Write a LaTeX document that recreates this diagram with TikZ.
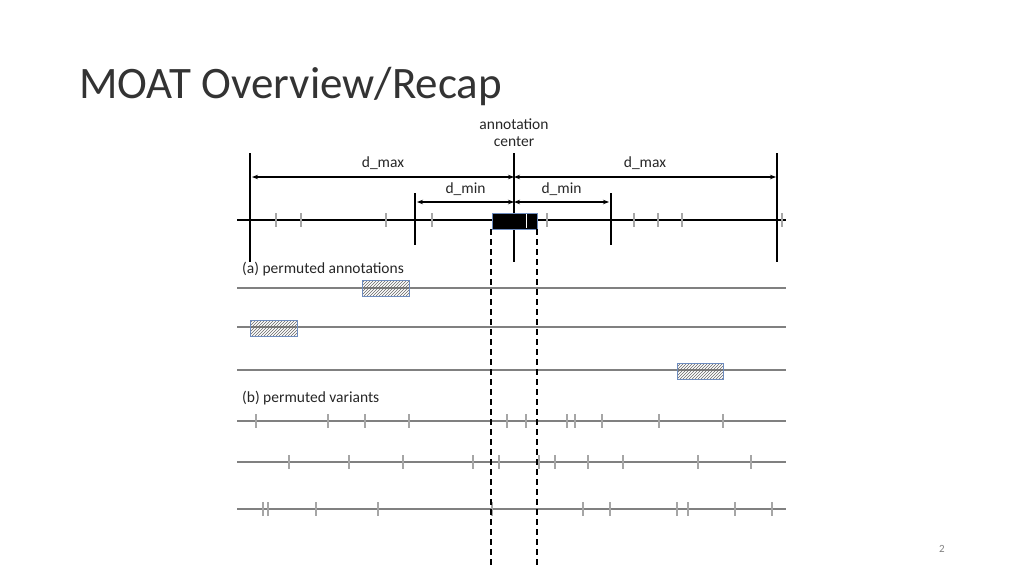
\documentclass[tikz,border=0pt]{standalone}
\usepackage{fontspec}
\setmainfont{Carlito}
\usepackage{tikz}
\usetikzlibrary{patterns,arrows.meta}
\definecolor{boxedge}{RGB}{110,140,190}
\tikzset{
  bigbar/.style={line width=2pt},
  gtick/.style={draw=gray!70,line width=1.4pt},
  gline/.style={draw=gray,line width=1.3pt},
  dimarrow/.style={{Stealth[length=6pt]}-{Stealth[length=6pt]},line width=1.2pt},
  lbl/.style={font=\fontsize{15.5}{17}\selectfont,inner sep=0pt,text=black!85},
  hatchbox/.style={draw=boxedge,pattern=north east lines,pattern color=gray!80!black}
}
\newcommand{\tickrow}[2]{
\foreach \x in {#2} \draw[gtick] (\x,#1-7)--(\x,#1+7);
}
\begin{document}
\begin{tikzpicture}[x=1pt,y=-1pt]
\useasboundingbox (0,0) rectangle (1024,576);
\node[anchor=west,inner sep=0pt,font=\fontsize{45}{50}\selectfont,text=black!80] (title) at (79,86) {MOAT Overview/Recap};
\node[lbl,align=center] (center) at (514,133) {annotation\\center};
\node[lbl,font=\fontsize{11}{12}\selectfont,text=gray] (page) at (942,549) {2};

% main track
\draw[line width=1.3pt] (237,220)--(786,220);
\tickrow{220}{276,301,386,432,547,634,658,682,782}
\foreach \x in {250,514,777} \draw[bigbar] (\x,153)--(\x,262);
\foreach \x in {415,611} \draw[bigbar] (\x,193)--(\x,245);
\draw[fill=black,draw=boxedge] (492,213) rectangle (537,229);
\draw[white,line width=1pt] (526,214)--(526,228);

% distances
\coordinate (lmax) at (252,177); \coordinate (cmax) at (514,177); \coordinate (rmax) at (776,177);
\coordinate (lmin) at (417,202); \coordinate (cmin) at (514,202); \coordinate (rmin) at (609,202);
\draw[dimarrow] (lmax)--(cmax) node[lbl,midway,above=7pt] (dmaxl) {d\_max};
\draw[dimarrow] (cmax)--(rmax) node[lbl,midway,above=7pt] (dmaxr) {d\_max};
\draw[dimarrow] (lmin)--(cmin) node[lbl,midway,above=6pt] (dminl) {d\_min};
\draw[dimarrow] (cmin)--(rmin) node[lbl,midway,above=6pt] (dminr) {d\_min};

% (a) permuted annotations
\node[lbl,anchor=west] (perma) at (242,269) {(a) permuted annotations};
\foreach \y in {288,327,370} \draw[gline] (237,\y)--(786,\y);
\draw[hatchbox] (362,280) rectangle (409,296);
\draw[hatchbox] (250,320) rectangle (297,336);
\draw[hatchbox] (677,363) rectangle (723,379);

% (b) permuted variants
\node[lbl,anchor=west] (permb) at (242,398) {(b) permuted variants};
\foreach \y in {421,462,509} \draw[gline] (237,\y)--(786,\y);
\tickrow{421}{256,328,365,409,507,526,567,575,602,659,723}
\tickrow{462}{289,349,403,473,499,539,555,588,623,698,751}
\tickrow{509}{263,268,316,378,492,583,610,677,688,735,772}

% window
\draw[dashed,line width=1.4pt,dash pattern=on 6pt off 4pt] (491,229)--(491,568);
\draw[dashed,line width=1.4pt,dash pattern=on 6pt off 4pt] (537,229)--(537,568);
\end{tikzpicture}
\end{document}
